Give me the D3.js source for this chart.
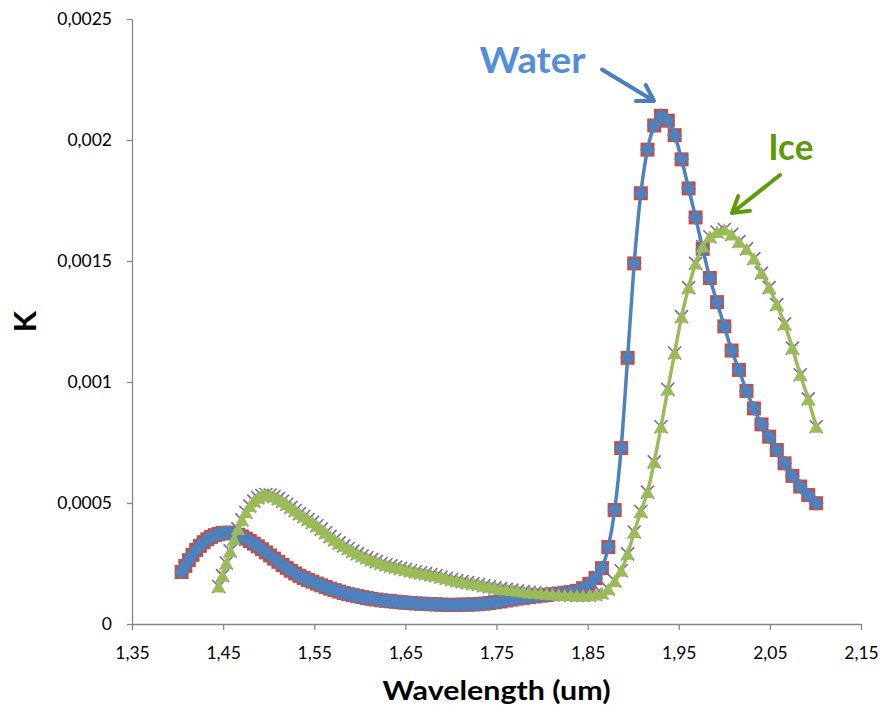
<!DOCTYPE html>
<html>
<head>
<meta charset="utf-8">
<script src="https://cdn.jsdelivr.net/npm/d3@7"></script>
<style>
  html, body { margin: 0; padding: 0; background: #ffffff; }
  svg { display: block; }
</style>
</head>
<body>
<svg id="chart" width="880" height="705"></svg>
<script>
// ---------- DATA ----------
// wavelengths (um) of the samples (equal steps in wavenumber)
const wavelength = [
  1.4045, 1.4085, 1.4124, 1.4164, 1.4205, 1.4245, 1.4286, 1.4327, 1.4368, 1.4409,
  1.4451, 1.4493, 1.4535, 1.4577, 1.4620, 1.4663, 1.4706, 1.4749, 1.4793, 1.4837,
  1.4881, 1.4925, 1.4970, 1.5015, 1.5060, 1.5106, 1.5152, 1.5198, 1.5244, 1.5291,
  1.5337, 1.5385, 1.5432, 1.5480, 1.5528, 1.5576, 1.5625, 1.5674, 1.5723, 1.5773,
  1.5823, 1.5873, 1.5924, 1.5974, 1.6026, 1.6077, 1.6129, 1.6181, 1.6234, 1.6287,
  1.6340, 1.6393, 1.6447, 1.6502, 1.6556, 1.6611, 1.6667, 1.6722, 1.6779, 1.6835,
  1.6892, 1.6949, 1.7007, 1.7065, 1.7123, 1.7182, 1.7241, 1.7301, 1.7361, 1.7422,
  1.7483, 1.7544, 1.7606, 1.7668, 1.7730, 1.7794, 1.7857, 1.7921, 1.7986, 1.8051,
  1.8116, 1.8182, 1.8248, 1.8315, 1.8382, 1.8450, 1.8519, 1.8587, 1.8657, 1.8727,
  1.8797, 1.8868, 1.8939, 1.9011, 1.9084, 1.9157, 1.9231, 1.9305, 1.9380, 1.9455,
  1.9531, 1.9608, 1.9685, 1.9763, 1.9841, 1.9920, 2.0000, 2.0080, 2.0161, 2.0243,
  2.0325, 2.0408, 2.0492, 2.0576, 2.0661, 2.0747, 2.0833, 2.0921, 2.1008
];

// Water K values (same length as wavelength)
const water = [
  0.000215, 0.000240, 0.000264, 0.000286, 0.000306, 0.000323, 0.000338, 0.000350, 0.000360, 0.000367,
  0.000372, 0.000376, 0.000377, 0.000377, 0.000374, 0.000369, 0.000362, 0.000353, 0.000343, 0.000332,
  0.000321, 0.000309, 0.000296, 0.000283, 0.000270, 0.000257, 0.000244, 0.000232, 0.000220, 0.000209,
  0.000199, 0.000190, 0.000182, 0.000175, 0.000167, 0.000160, 0.000153, 0.000146, 0.000140, 0.000134,
  0.000128, 0.000123, 0.000119, 0.000115, 0.000111, 0.000107, 0.000104, 0.000101, 0.000098, 0.000096,
  0.000094, 0.000092, 0.000090, 0.000088, 0.000087, 0.000085, 0.000084, 0.000083, 0.000082, 0.000081,
  0.000080, 0.000079, 0.000079, 0.000079, 0.000080, 0.000080, 0.000081, 0.000082, 0.000084, 0.000087,
  0.000090, 0.000093, 0.000097, 0.000101, 0.000105, 0.000108, 0.000111, 0.000114, 0.000117, 0.000120,
  0.000123, 0.000126, 0.000129, 0.000132, 0.000137, 0.000148, 0.000166, 0.000190, 0.000231, 0.000318,
  0.000471, 0.000727, 0.00110, 0.00149, 0.00178, 0.00196, 0.00206, 0.00210, 0.00208, 0.00202,
  0.00192, 0.00180, 0.00168, 0.00155, 0.00143, 0.00133, 0.00123, 0.00113, 0.00105, 0.000963,
  0.000891, 0.000825, 0.000774, 0.000719, 0.000664, 0.000612, 0.000568, 0.000533, 0.000499
];

// Ice wavelengths: the same grid starting at 1.4451 um
const iceWavelength = wavelength.slice(10);
// Ice K values
const ice = [
  0.000155, 0.000200, 0.000252, 0.000302, 0.000350, 0.000393, 0.000430, 0.000462, 0.000488, 0.000508,
  0.000522, 0.000531, 0.000535, 0.000533, 0.000527, 0.000518, 0.000507, 0.000495, 0.000482, 0.000469,
  0.000456, 0.000444, 0.000432, 0.000420, 0.000406, 0.000392, 0.000377, 0.000362, 0.000348, 0.000335,
  0.000323, 0.000312, 0.000301, 0.000291, 0.000282, 0.000274, 0.000266, 0.000258, 0.000251, 0.000245,
  0.000240, 0.000235, 0.000230, 0.000225, 0.000220, 0.000216, 0.000212, 0.000208, 0.000204, 0.000200,
  0.000194, 0.000189, 0.000184, 0.000179, 0.000175, 0.000171, 0.000167, 0.000163, 0.000158, 0.000154,
  0.000150, 0.000146, 0.000143, 0.000140, 0.000137, 0.000134, 0.000131, 0.000129, 0.000127, 0.000125,
  0.000123, 0.000121, 0.000120, 0.000119, 0.000118, 0.000118, 0.000119, 0.000122, 0.000128, 0.000145,
  0.000178, 0.000220, 0.000290, 0.000380, 0.000465, 0.000545, 0.000670, 0.000815, 0.000970, 0.00112,
  0.00127, 0.00139, 0.00149, 0.00156, 0.00160, 0.00162, 0.00163, 0.00161, 0.00158, 0.00155,
  0.00151, 0.00145, 0.00139, 0.00132, 0.00124, 0.00114, 0.00103, 0.000930, 0.000815
];

const xTicks = [1.35, 1.45, 1.55, 1.65, 1.75, 1.85, 1.95, 2.05, 2.15];
const xTickLabels = ["1,35", "1,45", "1,55", "1,65", "1,75", "1,85", "1,95", "2,05", "2,15"];
const yTicks = [0, 0.0005, 0.001, 0.0015, 0.002, 0.0025];
const yTickLabels = ["0", "0,0005", "0,001", "0,0015", "0,002", "0,0025"];

const xTitle = "Wavelength (um)";
const yTitle = "K";
const waterLabel = "Water";
const iceLabel = "Ice";

// ---------- DRAW ----------
const svg = d3.select("#chart");
const font = "Lato, 'Open Sans', 'DejaVu Sans', sans-serif";
const axisColor = "#868686";

const x = d3.scaleLinear().domain([1.35, 2.15]).range([132, 861]);
const y = d3.scaleLinear().domain([0, 0.0025]).range([624, 19]);

svg.append("rect").attr("width", 880).attr("height", 705).attr("fill", "#fff");

// axes
const xAxis = d3.axisBottom(x)
  .tickValues(xTicks)
  .tickFormat((d, i) => xTickLabels[i])
  .tickSizeInner(6).tickSizeOuter(0).tickPadding(17);
const gx = svg.append("g").attr("transform", `translate(0,${y(0)})`).call(xAxis);

const yAxis = d3.axisLeft(y)
  .tickValues(yTicks)
  .tickFormat((d, i) => yTickLabels[i])
  .tickSizeInner(5).tickSizeOuter(0).tickPadding(15);
const gy = svg.append("g").attr("transform", `translate(${x(1.35)},0)`).call(yAxis);

[gx, gy].forEach(g => {
  g.select(".domain").attr("stroke", axisColor).attr("stroke-width", 1.3);
  g.selectAll(".tick line").attr("stroke", axisColor).attr("stroke-width", 1.3);
  g.selectAll(".tick text")
    .attr("fill", "#000")
    .style("font-family", font)
    .style("font-size", "17.5px");
});
gx.selectAll(".tick text").attr("dy", null).attr("y", 6 + 17 + 12);

// series
const waterData = wavelength.map((w, i) => ({ x: w, y: water[i] }));
const iceData = iceWavelength.map((w, i) => ({ x: w, y: ice[i] }));

const line = d3.line().x(d => x(d.x)).y(d => y(d.y)).curve(d3.curveMonotoneX);

const plot = svg.append("g");

// series 1: water red squares
plot.append("g").selectAll("rect").data(waterData).join("rect")
  .attr("x", d => x(d.x) - 7).attr("y", d => y(d.y) - 7)
  .attr("width", 14).attr("height", 14)
  .attr("fill", "#C0504D");

// series 2: water blue line + diamonds
plot.append("path").datum(waterData)
  .attr("d", line).attr("fill", "none")
  .attr("stroke", "#4F81BD").attr("stroke-width", 3.5)
  .attr("stroke-linejoin", "round");
plot.append("g").selectAll("path").data(waterData).join("path")
  .attr("transform", d => `translate(${x(d.x)},${y(d.y)})`)
  .attr("d", "M0,-7.5L7.5,0L0,7.5L-7.5,0Z")
  .attr("fill", "#4F81BD");

// series 3: ice purple x markers
plot.append("g").selectAll("path").data(iceData).join("path")
  .attr("transform", d => `translate(${x(d.x)},${y(d.y)})`)
  .attr("d", "M-6.5,-6.5L6.5,6.5M-6.5,6.5L6.5,-6.5")
  .attr("fill", "none")
  .attr("stroke", "#8064A2").attr("stroke-width", 1.6);

// series 4: ice green line + triangles
plot.append("path").datum(iceData)
  .attr("d", line).attr("fill", "none")
  .attr("stroke", "#9BBB59").attr("stroke-width", 3.5)
  .attr("stroke-linejoin", "round");
plot.append("g").selectAll("path").data(iceData).join("path")
  .attr("transform", d => `translate(${x(d.x)},${y(d.y)})`)
  .attr("d", "M0,-6.5L7,6L-7,6Z")
  .attr("fill", "#9BBB59");

// axis titles
svg.append("text")
  .attr("x", (x(1.35) + x(2.15)) / 2).attr("y", 700)
  .attr("text-anchor", "middle")
  .attr("textLength", 228).attr("lengthAdjust", "spacingAndGlyphs")
  .style("font-family", font).style("font-weight", "bold").style("font-size", "27px")
  .attr("fill", "#000")
  .text(xTitle);

svg.append("text")
  .attr("transform", `translate(36,${(y(0) + y(0.0025)) / 2}) rotate(-90)`)
  .attr("text-anchor", "middle")
  .style("font-family", font).style("font-weight", "bold").style("font-size", "31px")
  .attr("fill", "#000")
  .text(yTitle);

// annotations
svg.append("text")
  .attr("x", 479.5).attr("y", 72.7)
  .attr("textLength", 106).attr("lengthAdjust", "spacingAndGlyphs")
  .style("font-family", font).style("font-weight", "bold").style("font-size", "37px")
  .attr("fill", "#558ED5")
  .text(waterLabel);

svg.append("text")
  .attr("x", 768.3).attr("y", 160)
  .attr("textLength", 45).attr("lengthAdjust", "spacingAndGlyphs")
  .style("font-family", font).style("font-weight", "bold").style("font-size", "36px")
  .attr("fill", "#5F9A0A")
  .text(iceLabel);

// arrows
function arrow(x1, y1, x2, y2, color) {
  const ang = Math.atan2(y2 - y1, x2 - x1);
  const L = 18, spread = 0.55;
  const a1 = [x2 - L * Math.cos(ang - spread), y2 - L * Math.sin(ang - spread)];
  const a2 = [x2 - L * Math.cos(ang + spread), y2 - L * Math.sin(ang + spread)];
  svg.append("path")
    .attr("d", `M${x1},${y1}L${x2},${y2}M${a1[0]},${a1[1]}L${x2},${y2}L${a2[0]},${a2[1]}`)
    .attr("fill", "none").attr("stroke", color).attr("stroke-width", 4)
    .attr("stroke-linecap", "round").attr("stroke-linejoin", "round");
}
arrow(602, 69.5, 654, 101, "#4A7EBB");
arrow(780, 175, 732, 213, "#5F9A0A");
</script>
</body>
</html>
